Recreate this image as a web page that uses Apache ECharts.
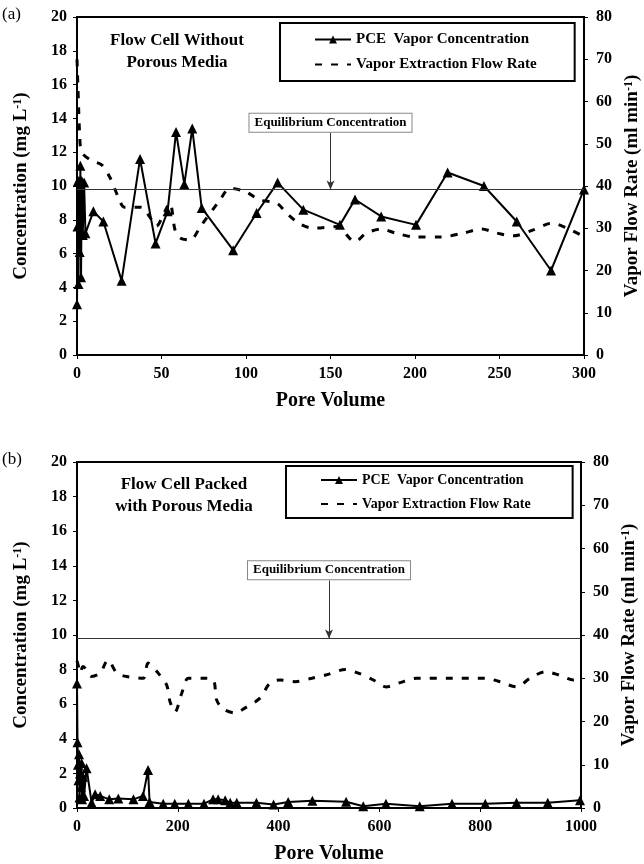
<!DOCTYPE html>
<html>
<head>
<meta charset="utf-8">
<script src="https://cdn.jsdelivr.net/npm/echarts@6/dist/echarts.min.js"></script>
<style>
  html, body { margin: 0; padding: 0; background: #fff; }
  #chart { width: 644px; height: 864px; }
</style>
</head>
<body>
<div id="chart"></div>
<script>
// panel (a) - flow cell without porous media
const pceA = [
  [0, 3.0], [0.3, 7.6], [0.6, 10.3], [0.9, 4.2], [1.2, 10.3], [1.6, 6.1],
  [2.0, 11.2], [2.4, 4.6], [2.8, 10.3], [3.4, 7.1], [4.2, 10.2], [5.0, 7.2],
  [9.7, 8.5], [15.6, 7.9], [26.4, 4.4], [37.3, 11.6], [46.5, 6.6], [53.6, 8.5],
  [58.6, 13.2], [63.5, 10.1], [68.2, 13.4], [73.8, 8.7], [92.4, 6.2], [106.3, 8.4],
  [118.7, 10.2], [133.9, 8.6], [155.6, 7.7], [164.5, 9.2], [180, 8.2], [200.6, 7.7],
  [219.3, 10.8], [240.8, 10.0], [260.2, 7.9], [280.5, 5.0], [300, 9.8]
]
const flowA = [
  [0, 70], [0.5, 64], [1, 58], [1.5, 53], [2.8, 48], [8.7, 46], [14.6, 45],
  [19.5, 42], [24.4, 37.4], [28, 35], [38, 35], [43, 32.7], [47, 30.5], [52, 34],
  [55, 36], [58, 29.6], [61, 27.7], [67, 27.2], [73, 30.4], [84.6, 36.7], [90.5, 39.5],
  [100, 38.6], [108, 36.7], [118, 36], [124, 33.6], [132, 31], [140, 30], [153.6, 30.4],
  [164.5, 26.8], [171, 28.8], [180, 29.8], [189, 28.8], [201, 27.9], [215, 27.9],
  [228, 28.8], [239.5, 29.8], [248, 28.9], [258, 28.2], [270, 29.6], [281, 31.2],
  [290, 30], [300, 28]
]
// panel (b) - flow cell packed with porous media
const pceB = [
  [0, 7.2], [1, 3.8], [2, 2.5], [3, 1.6], [4, 3.1], [5, 0.6], [6, 2.0], [8, 1.2],
  [9, 2.6], [10, 0.5], [12, 1.8], [14, 0.7], [19, 2.3], [29, 0.3], [36, 0.8],
  [46, 0.7], [64, 0.5], [82, 0.55], [112, 0.5], [131, 0.7], [141, 2.2], [144, 0.35],
  [171, 0.25], [194, 0.25], [221, 0.25], [252, 0.25], [270, 0.5], [280, 0.5],
  [294, 0.45], [304, 0.3], [317, 0.3], [356, 0.3], [390, 0.2], [419, 0.35],
  [467, 0.42], [534, 0.36], [568, 0.1], [613, 0.25], [680, 0.1], [744, 0.25],
  [810, 0.25], [872, 0.3], [934, 0.3], [998, 0.45]
]
const flowB = [
  [0, 34], [3, 32.7], [6, 31.2], [12, 32.7], [29, 30.4], [45.6, 31.2], [61.5, 34.2],
  [79, 31.2], [98.5, 30.4], [131.5, 30], [141, 33.5], [161, 31.2], [178, 28.4],
  [184.5, 24.6], [194.4, 22.2], [208, 26.6], [221, 30], [250, 30], [270.5, 29.6],
  [277, 25], [290, 22.9], [313.5, 22], [333, 23.1], [363, 25.4], [383, 28.9],
  [403, 29.6], [433, 29.2], [466, 30], [495, 30.8], [532, 32], [558, 31.2],
  [588, 29.6], [613, 28], [641, 29], [674, 30], [744, 30], [810, 30], [839, 29.2],
  [872, 28], [899, 30], [929, 31.5], [955, 30.8], [985, 29.6], [998, 30]
]
const equilibrium = 9.8
const seriesNames = ['PCE  Vapor Concentration', 'Vapor Extraction Flow Rate']

const serif = '"Liberation Serif", "Times New Roman", serif'
const chart = echarts.init(document.getElementById('chart'))

function yLeft (gridIndex) {
  return {
    gridIndex: gridIndex,
    type: 'value',
    min: 0,
    max: 20,
    interval: 2,
    name: 'Concentration (mg L{sup|-1})',
    nameLocation: 'middle',
    nameGap: 46,
    nameTextStyle: {
      fontFamily: serif, fontWeight: 'bold', fontSize: 19, color: '#000',
      rich: { sup: { fontFamily: serif, fontWeight: 'bold', fontSize: 12, verticalAlign: 'top', color: '#000' } }
    },
    axisLine: { show: true, lineStyle: { color: '#000', width: 2 } },
    axisTick: { show: true, length: 4, lineStyle: { color: '#000' } },
    axisLabel: { margin: 10, fontFamily: serif, fontWeight: 'bold', fontSize: 16, color: '#000' },
    splitLine: { show: false }
  }
}

function yRight (gridIndex) {
  return {
    gridIndex: gridIndex,
    type: 'value',
    position: 'right',
    min: 0,
    max: 80,
    interval: 10,
    name: 'Vapor Flow Rate (ml min{sup|-1})',
    nameLocation: 'middle',
    nameGap: 37,
    nameRotate: 90,
    nameTextStyle: {
      fontFamily: serif, fontWeight: 'bold', fontSize: 19, color: '#000',
      rich: { sup: { fontFamily: serif, fontWeight: 'bold', fontSize: 12, verticalAlign: 'top', color: '#000' } }
    },
    axisLine: { show: true, lineStyle: { color: '#000', width: 2 } },
    axisTick: { show: true, length: 4, lineStyle: { color: '#000' } },
    axisLabel: { margin: 12, fontFamily: serif, fontWeight: 'bold', fontSize: 16, color: '#000' },
    splitLine: { show: false }
  }
}

function xAxis (gridIndex, max, interval) {
  return {
    gridIndex: gridIndex,
    type: 'value',
    min: 0,
    max: max,
    interval: interval,
    name: 'Pore Volume',
    nameLocation: 'middle',
    nameGap: 36,
    nameTextStyle: { fontFamily: serif, fontWeight: 'bold', fontSize: 20, color: '#000' },
    axisLine: { lineStyle: { color: '#000', width: 2 } },
    axisTick: { length: 4, lineStyle: { color: '#000' } },
    axisLabel: { margin: 11, fontFamily: serif, fontWeight: 'bold', fontSize: 16, color: '#000', formatter: v => String(v) },
    splitLine: { show: false }
  }
}

function pceSeries (data, xi, yi, arrowX) {
  return {
    name: seriesNames[0],
    type: 'line',
    xAxisIndex: xi,
    yAxisIndex: yi,
    data: data,
    symbol: 'triangle',
    symbolSize: 10,
    showAllSymbol: true,
    itemStyle: { color: '#000' },
    lineStyle: { color: '#000', width: 2 },
    z: 3,
    markLine: {
      silent: true,
      symbol: 'none',
      animation: false,
      label: { show: false },
      lineStyle: { color: '#333', width: 1, type: 'solid' },
      data: [
        { yAxis: equilibrium },
        [
          { coord: [arrowX, 13.15], symbol: 'none' },
          { coord: [arrowX, equilibrium], symbol: 'arrow', symbolSize: [6, 9] }
        ]
      ]
    },
    markPoint: {
      silent: true,
      symbol: 'rect',
      symbolSize: 0,
      animation: false,
      label: {
        show: true,
        position: 'inside',
        formatter: 'Equilibrium Concentration',
        fontFamily: serif,
        fontWeight: 'bold',
        fontSize: 13,
        color: '#000',
        backgroundColor: '#fff',
        borderColor: '#888',
        borderWidth: 1,
        padding: [3, 5, 2, 5]
      },
      data: [{ coord: [arrowX, 13.75] }]
    }
  }
}

function flowSeries (data, xi, yi) {
  return {
    name: seriesNames[1],
    type: 'line',
    xAxisIndex: xi,
    yAxisIndex: yi,
    data: data,
    smooth: 0.3,
    symbol: 'circle',
    showSymbol: false,
    // transparent symbol colour: legend shows only the dashed line
    itemStyle: { color: 'rgba(0,0,0,0)' },
    lineStyle: { color: '#000', width: 3, type: [7, 9] },
    z: 2
  }
}

function legendBox (top, left, fontSize, pad) {
  return {
    orient: 'vertical',
    top: top,
    left: left,
    data: seriesNames,
    itemWidth: 36,
    itemHeight: 10,
    itemGap: 10,
    padding: pad,
    borderColor: '#000',
    borderWidth: 2,
    selectedMode: false,
    textStyle: { fontFamily: serif, fontWeight: 'bold', fontSize: fontSize, color: '#000' }
  }
}

chart.setOption({
  animation: false,
  backgroundColor: '#fff',
  grid: [
    { left: 77, top: 17, width: 507, height: 338, outerBoundsMode: 'none', show: true, borderColor: '#000', borderWidth: 2, backgroundColor: 'transparent' },
    { left: 77, top: 462, width: 504, height: 346, outerBoundsMode: 'none', show: true, borderColor: '#000', borderWidth: 2, backgroundColor: 'transparent' }
  ],
  legend: [
    legendBox(23, 280, 15, [9, 38, 9, 34]),
    legendBox(466, 286, 14, [7, 42, 7, 34])
  ],
  graphic: [
    { type: 'text', left: 2, top: 6, style: { text: '(a)', fontFamily: serif, fontSize: 17, fill: '#000' } },
    { type: 'text', left: 2, top: 451, style: { text: '(b)', fontFamily: serif, fontSize: 17, fill: '#000' } },
    { type: 'text', x: 177, y: 30, style: { text: 'Flow Cell Without\nPorous Media', textAlign: 'center', fontFamily: serif, fontWeight: 'bold', fontSize: 17, lineHeight: 22, fill: '#000' } },
    { type: 'text', x: 184, y: 474, style: { text: 'Flow Cell Packed\nwith Porous Media', textAlign: 'center', fontFamily: serif, fontWeight: 'bold', fontSize: 17, lineHeight: 22, fill: '#000' } }
  ],
  xAxis: [xAxis(0, 300, 50), xAxis(1, 1000, 200)],
  yAxis: [yLeft(0), yRight(0), yLeft(1), yRight(1)],
  series: [
    pceSeries(pceA, 0, 0, 150),
    flowSeries(flowA, 0, 1),
    pceSeries(pceB, 1, 2, 500),
    flowSeries(flowB, 1, 3)
  ]
})
</script>
</body>
</html>
